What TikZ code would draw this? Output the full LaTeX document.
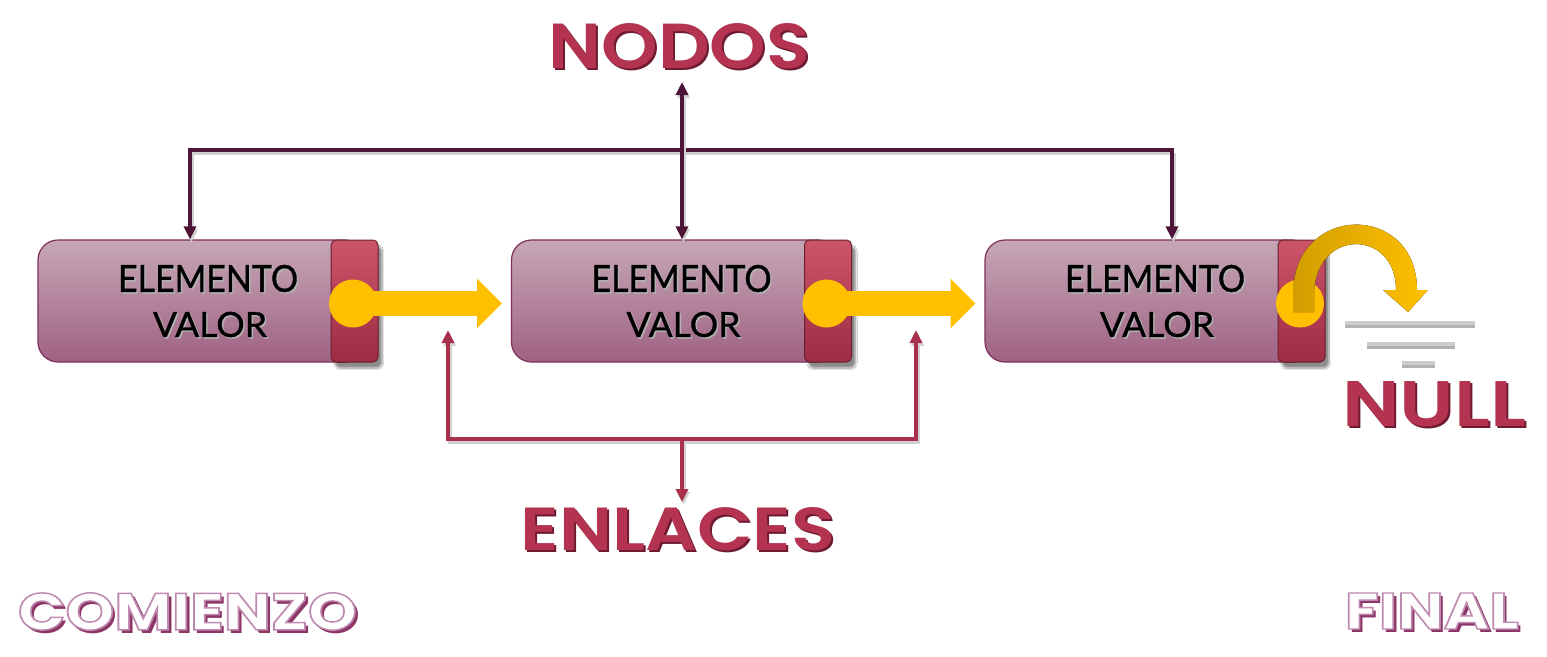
\documentclass[tikz,border=0pt]{standalone}
\usepackage{fontspec}
\usepackage{graphicx}
\usetikzlibrary{arrows.meta,shadows.blur}
\newfontfamily\titlef{Poppins}
\newfontfamily\titlesemi{Poppins SemiBold}
\newfontfamily\bodyf{Lato}[FakeBold=1.0]
\definecolor{boxtop}{HTML}{C6A7B6}
\definecolor{boxbot}{HTML}{9F6282}
\definecolor{boxborder}{HTML}{7E2F5C}
\definecolor{tabtop}{HTML}{CC5569}
\definecolor{tabbot}{HTML}{9E2C43}
\definecolor{tabborder}{HTML}{6A1F30}
\definecolor{gold}{HTML}{FFC000}
\definecolor{golddark}{HTML}{D29E00}
\definecolor{nodc}{HTML}{4E1538}
\definecolor{enlc}{HTML}{A8304C}
\definecolor{ttmain}{HTML}{B33350}
\definecolor{ttdark}{HTML}{6E1B31}
\definecolor{shpurple}{HTML}{8C3567}
\newcommand{\fitbox}[3]{\resizebox{#1pt}{#2pt}{#3}}
\newcommand{\chisel}[6]{% name, x, y, w, h, text
  \node[txt,text=ttdark] (#1s) at (#2+2,#3+2) {\fitbox{#4}{#5}{\titlesemi #6}};
  \node[txt,text=ttmain] (#1) at (#2,#3) {\fitbox{#4}{#5}{\titlesemi #6}};
}
% outlined text: fill white, stroke light purple (PDF text render mode 2)
\newcommand{\outlined}[1]{\special{pdf:code 2 Tr 0.28 w 0.75 0.54 0.69 RG}#1\special{pdf:code 0 Tr}}
\newcommand{\hollow}[6]{% name, x, y, w, h, text
  \node[txt,text=shpurple] (#1s) at (#2+3.5,#3+3.5) {\fitbox{#4}{#5}{\titlef\bfseries #6}};
  \node[txt,text=white] (#1) at (#2,#3) {\fitbox{#4}{#5}{\titlef\bfseries\outlined{#6}}};
}
\newcommand{\bodytext}[6]{% name, x, y, w, h, text
  \node[txt,text=black!30] (#1s) at (#2+1.5,#3+1.5) {\fitbox{#4}{#5}{\bodyf #6}};
  \node[txt,text=black] (#1) at (#2,#3) {\fitbox{#4}{#5}{\bodyf #6}};
}
\tikzset{
  mytip/.tip={Triangle[width=12pt,length=13pt]},
  txt/.style={inner sep=0pt, outer sep=0pt},
  box/.style={draw=boxborder, line width=1.2pt, rounded corners=20pt,
    top color=boxtop, bottom color=boxbot, minimum width=327pt,
    minimum height=122pt, inner sep=0pt},
  tab/.style={draw=tabborder, line width=1pt, rounded corners=5pt,
    top color=tabtop, bottom color=tabbot, minimum width=47pt,
    minimum height=122pt, inner sep=0pt,
    blur shadow={shadow xshift=4pt, shadow yshift=-6pt, shadow opacity=45, shadow blur steps=8}},
  dot/.style={circle, fill=gold, minimum size=48pt, inner sep=0pt},
  ptr/.style={draw=gold, line width=25pt, -{Triangle[width=48pt,length=25pt]}},
  nodline/.style={draw=nodc, line width=3.5pt,
    preaction={draw=black!18, line width=4pt, transform canvas={xshift=1.5pt,yshift=-3pt}}},
  enlline/.style={draw=enlc, line width=3.5pt,
    preaction={draw=black!18, line width=4pt, transform canvas={xshift=1.5pt,yshift=-3pt}}},
  ground/.style={draw=black!20, line width=4pt,
    preaction={draw=black!30, line width=5pt, transform canvas={yshift=-2.5pt}}},
}
\begin{document}
\begin{tikzpicture}[x=1pt,y=-1pt]
\useasboundingbox[fill=white] (0,0) rectangle (1547,656);

% boxes
\foreach \i/\dx in {1/0,2/473.5,3/947} {
  \node[box] (b\i) at (201.5+\dx,301) {};
  \node[tab] (t\i) at (354.5+\dx,301) {};
  \node[dot] (c\i) at (353+\dx,303.5) {};
  \bodytext{e\i}{208+\dx}{278.5}{180}{27}{ELEMENTO}
  \bodytext{v\i}{210+\dx}{324.5}{114}{25}{VALOR}
}

% pointer arrows
\coordinate (p1) at (502,303.5);
\coordinate (p2) at (975.5,303.5);
\draw[ptr] (c1.center) -- (p1);
\draw[ptr] (c2.center) -- (p2);

% curved arrow to NULL
\fill[left color=golddark, right color=gold]
  (1293,312) -- (1293,295) .. controls (1293,202) and (1417,202) .. (1417,290)
  -- (1428,290) -- (1408,312) -- (1383,290) -- (1396,290)
  .. controls (1396,228) and (1314,228) .. (1314,295) -- (1314,312) -- cycle;

% ground
\coordinate (g1a) at (1345,323); \coordinate (g1b) at (1475,323);
\coordinate (g2a) at (1367,344); \coordinate (g2b) at (1455,344);
\coordinate (g3a) at (1402,363); \coordinate (g3b) at (1435,363);
\draw[ground] (g1a) -- (g1b);
\draw[ground] (g2a) -- (g2b);
\draw[ground] (g3a) -- (g3b);

% titles
\chisel{nodos}{679.5}{46.5}{261}{45}{NODOS}
\chisel{enlaces}{678}{529.5}{314}{43}{ENLACES}
\chisel{null}{1434}{404.5}{184}{45}{NULL}
\hollow{comienzo}{187.5}{611.5}{339}{37}{COMIENZO}
\hollow{final}{1432}{611}{174}{36}{FINAL}

% NODOS connectors
\coordinate (hl) at (190,150);
\coordinate (hr) at (1172,150);
\coordinate (nt) at (682,82);
\draw[nodline, line cap=rect] (hl) -- (hr);
\draw[nodline, -{mytip}] (hl) -- (hl |- b1.north);
\draw[nodline, -{mytip}] (hr) -- (hr |- b3.north);
\draw[nodline, {mytip}-{mytip}] (nt |- b2.north) -- (nt);

% ENLACES connectors
\coordinate (ll) at (448,439);
\coordinate (lr) at (916,439);
\coordinate (lm) at (682,439);
\coordinate (lt1) at (448,330);
\coordinate (lt2) at (916,330);
\coordinate (le) at (682,502);
\draw[enlline, {mytip}-{mytip}] (lt1) -- (ll) -- (lr) -- (lt2);
\draw[enlline, -{mytip}] (lm) -- (le);
\end{tikzpicture}
\end{document}
